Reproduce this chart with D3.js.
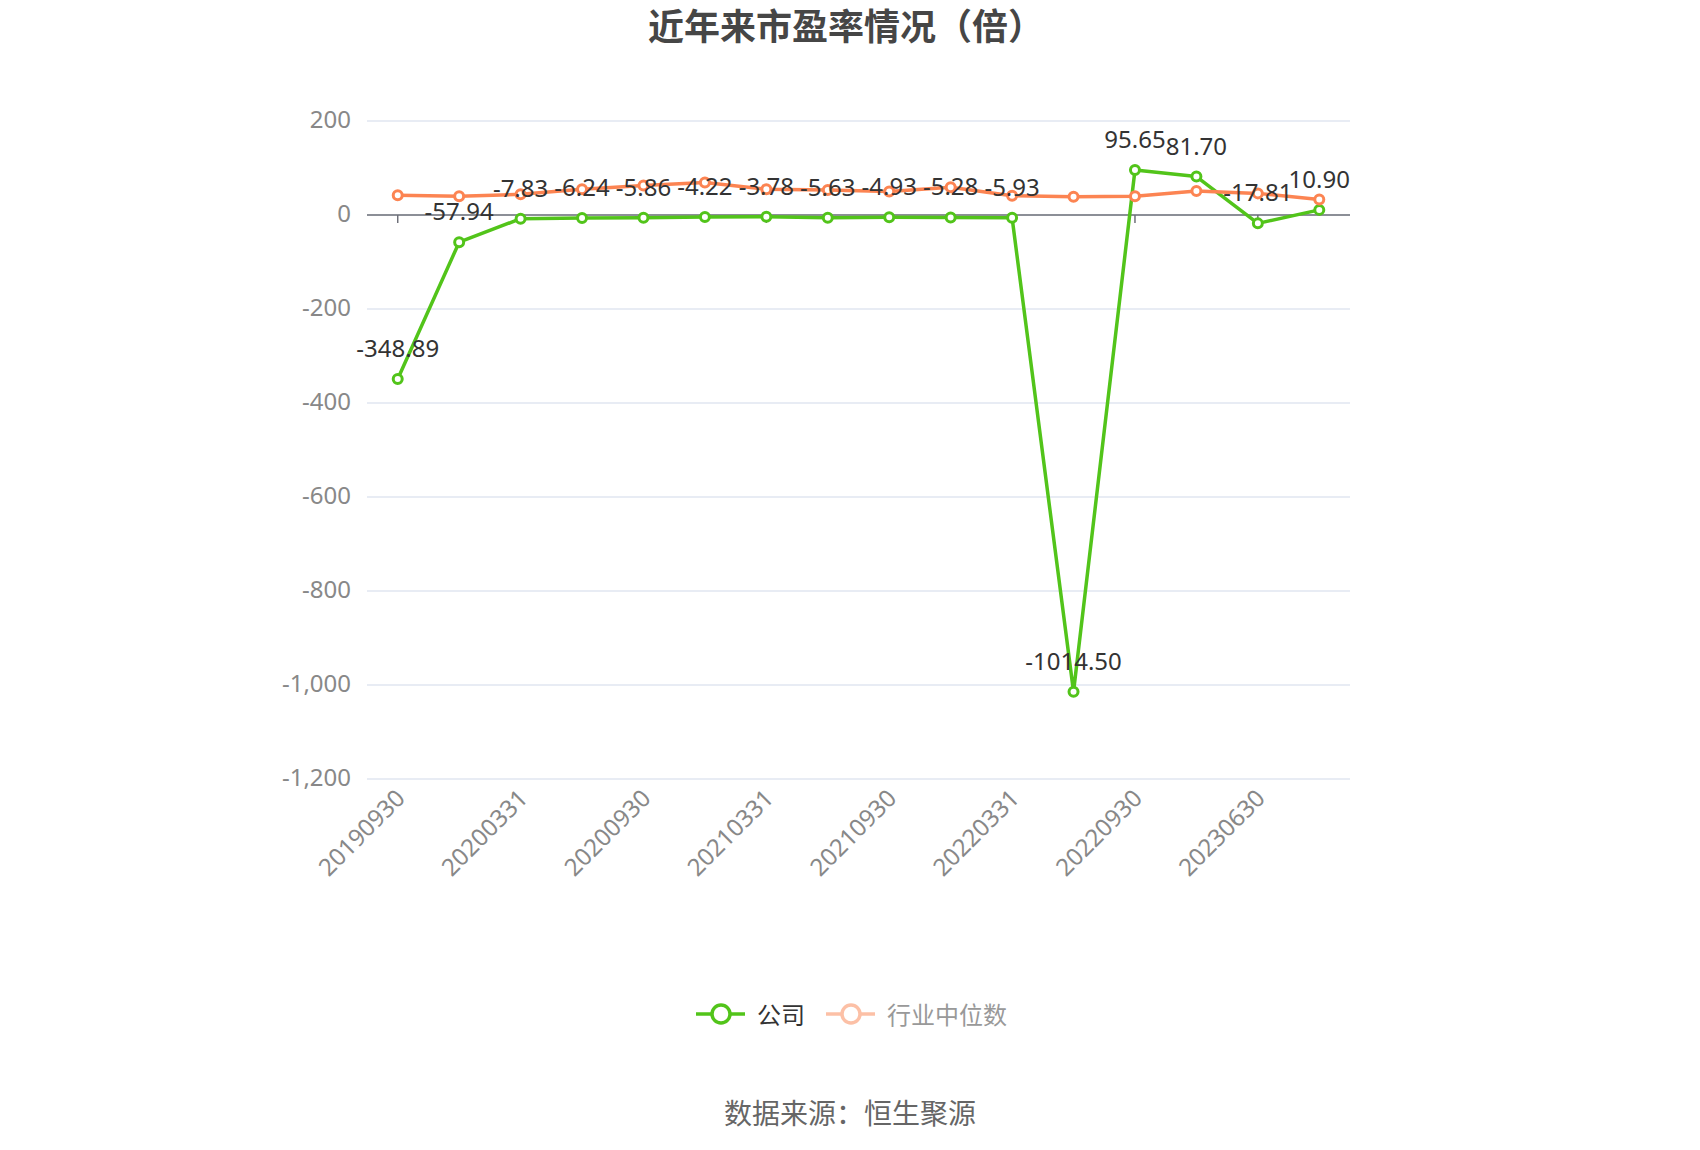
<!DOCTYPE html>
<html>
<head>
<meta charset="utf-8">
<script src="https://cdn.jsdelivr.net/npm/d3@7"></script>
<style>
  body { margin: 0; background: #fff; }
  svg { display: block; font-family: "Microsoft YaHei", "Noto Sans", "Noto Sans CJK SC", sans-serif; }
</style>
</head>
<body>
<svg id="chart" width="1700" height="1150"></svg>
<script>
const categories = ['20190930', '20191231', '20200331', '20200630', '20200930', '20201231',
    '20210331', '20210630', '20210930', '20211231', '20220331', '20220630',
    '20220930', '20221231', '20230630', '20230930']
const companyPE = [-348.89, -57.94, -7.83, -6.24, -5.86, -4.22, -3.78, -5.63,
    -4.93, -5.28, -5.93, -1014.50, 95.65, 81.70, -17.81, 10.90]
const industryPE = [42, 40, 44, 55, 63, 69, 55, 53, 50, 59, 41, 39, 40, 51, 46, 33]
const yTicks = [200, 0, -200, -400, -600, -800, -1000, -1200]

const green = '#52c41a'
const orange = '#fc8452'

const svg = d3.select('#chart')
const plot = { left: 367, right: 1350, top: 121, bottom: 779 }

var x = d3.scaleBand()
    .domain(categories)
    .range([plot.left, plot.right])
var cx = d => x(d) + x.bandwidth() / 2

var y = d3.scaleLinear()
    .domain([-1200, 200])
    .range([plot.bottom, plot.top])

// title
svg.append('text')
    .attr('x', 846).attr('y', 26)
    .attr('text-anchor', 'middle')
    .attr('dominant-baseline', 'central')
    .attr('font-size', 36).attr('font-weight', 'bold')
    .attr('fill', '#464646')
    .text('近年来市盈率情况（倍）')

// grid + y labels
svg.append('g').selectAll('line')
    .data(yTicks).join('line')
    .attr('x1', plot.left).attr('x2', plot.right)
    .attr('y1', d => y(d)).attr('y2', d => y(d))
    .attr('stroke', '#e0e6f1').attr('stroke-width', 1.5)

svg.append('g').selectAll('text')
    .data(yTicks).join('text')
    .attr('x', plot.left - 16).attr('y', d => y(d) - 3)
    .attr('text-anchor', 'end')
    .attr('dominant-baseline', 'central')
    .attr('font-size', 24).attr('fill', '#888')
    .text(d => d3.format(',')(d).replace('\u2212', '-'))

// zero axis line with ticks
svg.append('line')
    .attr('x1', plot.left).attr('x2', plot.right)
    .attr('y1', y(0)).attr('y2', y(0))
    .attr('stroke', '#6e7079').attr('stroke-width', 1.5)

const shown = categories.filter((d, i) => i % 2 === 0)
svg.append('g').selectAll('line')
    .data(shown).join('line')
    .attr('x1', d => cx(d)).attr('x2', d => cx(d))
    .attr('y1', y(0)).attr('y2', y(0) + 8)
    .attr('stroke', '#6e7079').attr('stroke-width', 1.5)

svg.append('g').selectAll('text')
    .data(shown).join('text')
    .attr('transform', d => `translate(${cx(d) + 2},${plot.bottom + 14}) rotate(-45)`)
    .attr('text-anchor', 'end')
    .attr('dominant-baseline', 'central')
    .attr('font-size', 24).attr('fill', '#888')
    .text(d => d)

// series
function drawSeries(values, color) {
    let pts = values.map((v, i) => ({ cat: categories[i], v: v }))
    svg.append('path')
        .datum(pts)
        .attr('fill', 'none')
        .attr('stroke', color)
        .attr('stroke-width', 3.5)
        .attr('stroke-linejoin', 'round')
        .attr('d', d3.line().x(d => cx(d.cat)).y(d => y(d.v)))
    svg.append('g').selectAll('circle')
        .data(pts).join('circle')
        .attr('cx', d => cx(d.cat)).attr('cy', d => y(d.v))
        .attr('r', 4.5)
        .attr('fill', '#fff')
        .attr('stroke', color).attr('stroke-width', 3)
    return pts
}

const companyPts = drawSeries(companyPE, green)
drawSeries(industryPE, orange)

svg.append('g').selectAll('text')
    .data(companyPts).join('text')
    .attr('x', d => cx(d.cat)).attr('y', d => y(d.v) - 22)
    .attr('text-anchor', 'middle')
    .attr('font-size', 24).attr('fill', '#333')
    .text(d => d.v.toFixed(2))

// legend
const legend = [
    { name: '公司', color: green, text: '#333', x: 696 },
    { name: '行业中位数', color: '#fcc0a6', text: '#999', x: 826 }
]
const lg = svg.append('g').selectAll('g').data(legend).join('g')
    .attr('transform', d => `translate(${d.x},1014)`)
lg.append('line')
    .attr('x1', 0).attr('x2', 49)
    .attr('stroke', d => d.color).attr('stroke-width', 3.5)
lg.append('circle')
    .attr('cx', 25).attr('r', 9)
    .attr('fill', '#fff')
    .attr('stroke', d => d.color).attr('stroke-width', 3.5)
lg.append('text')
    .attr('x', 61)
    .attr('dominant-baseline', 'central')
    .attr('font-size', 24)
    .attr('fill', d => d.text)
    .text(d => d.name)

// source
svg.append('text')
    .attr('x', 850).attr('y', 1113)
    .attr('text-anchor', 'middle')
    .attr('dominant-baseline', 'central')
    .attr('font-size', 28).attr('fill', '#666')
    .text('数据来源：恒生聚源')
</script>
</body>
</html>
